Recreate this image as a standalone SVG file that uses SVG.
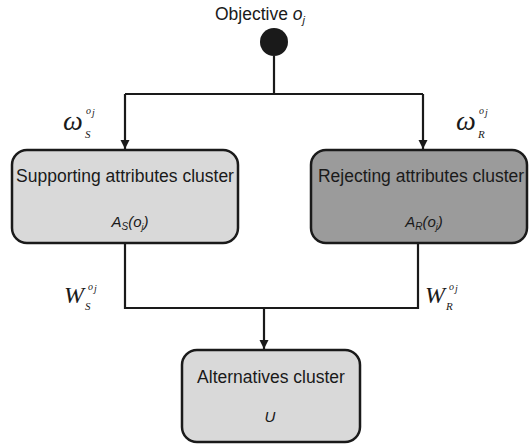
<svg xmlns="http://www.w3.org/2000/svg" width="530" height="448" viewBox="0 0 530 448">
<style>
.box{stroke:#1a1a1a;stroke-width:2.5}
.lbl{font-family:"Liberation Sans",Arial,sans-serif;font-size:17.5px;fill:#1a1a1a;text-anchor:middle}
.it{font-family:"Liberation Sans",Arial,sans-serif;font-style:italic;font-size:15px;fill:#1a1a1a;text-anchor:middle}
.w{font-family:"Liberation Serif","Times New Roman",serif;font-style:italic;fill:#1a1a1a}
.sub{font-family:"Liberation Serif","Times New Roman",serif;font-style:italic;font-size:11px;fill:#1a1a1a}
.sup{font-family:"Liberation Serif","Times New Roman",serif;font-style:italic;font-size:10px;fill:#1a1a1a}
.c{fill:none;stroke:#1a1a1a;stroke-width:2.2}
</style>
<defs>
<marker id="ah" markerWidth="10" markerHeight="10" refX="9" refY="5" orient="auto" markerUnits="userSpaceOnUse">
<path d="M0,0.5 L9,5 L0,9.5 Z" fill="#1a1a1a"/>
</marker>
</defs>
<rect width="530" height="448" fill="#ffffff"/>
<g id="objective">
<text class="lbl" x="260" y="20">Objective <tspan font-style="italic">o</tspan><tspan font-style="italic" font-size="11" dy="4">j</tspan></text>
<circle cx="274" cy="42" r="14" fill="#1a1a1a"/>
</g>
<g id="connectors">
<path class="c" d="M274,56 V94"/>
<path class="c" d="M125,94 H423"/>
<path class="c" d="M125,94 V149" marker-end="url(#ah)"/>
<path class="c" d="M423,94 V149" marker-end="url(#ah)"/>
<path class="c" d="M125,243 V308 H418 V243"/>
<path class="c" d="M264,308 V349" marker-end="url(#ah)"/>
</g>
<g id="weights">
<text class="w" x="63" y="130" font-size="28">ω</text>
<text class="sub" x="85" y="138">S</text>
<text class="sup" x="86" y="114">o</text>
<text class="sup" x="92" y="116" font-size="7">j</text>
<text class="w" x="456" y="130" font-size="28">ω</text>
<text class="sub" x="478" y="138">R</text>
<text class="sup" x="479" y="114">o</text>
<text class="sup" x="485" y="116" font-size="7">j</text>
<text class="w" x="64" y="303" font-size="24">W</text>
<text class="sub" x="85" y="310">S</text>
<text class="sup" x="88" y="290">o</text>
<text class="sup" x="94" y="292" font-size="7">j</text>
<text class="w" x="425" y="303" font-size="24">W</text>
<text class="sub" x="446" y="310">R</text>
<text class="sup" x="449" y="290">o</text>
<text class="sup" x="455" y="292" font-size="7">j</text>
</g>
<g id="supporting">
<rect class="box" x="12" y="150" width="226" height="93" rx="15" fill="#d9d9d9"/>
<text class="lbl" x="125" y="182">Supporting attributes cluster</text>
<text class="it" x="130" y="227">A<tspan font-size="10" dy="3">S</tspan><tspan dy="-3">(o</tspan><tspan font-size="9" dy="3">j</tspan><tspan dy="-3">)</tspan></text>
</g>
<g id="rejecting">
<rect class="box" x="311" y="150" width="216" height="93" rx="15" fill="#9b9b9b"/>
<text class="lbl" x="421" y="182">Rejecting attributes cluster</text>
<text class="it" x="424" y="227">A<tspan font-size="10" dy="3">R</tspan><tspan dy="-3">(o</tspan><tspan font-size="9" dy="3">j</tspan><tspan dy="-3">)</tspan></text>
</g>
<g id="alternatives">
<rect class="box" x="182" y="350" width="178" height="92" rx="15" fill="#d9d9d9"/>
<text class="lbl" x="271" y="383">Alternatives cluster</text>
<text class="it" x="270" y="422">U</text>
</g>
</svg>
